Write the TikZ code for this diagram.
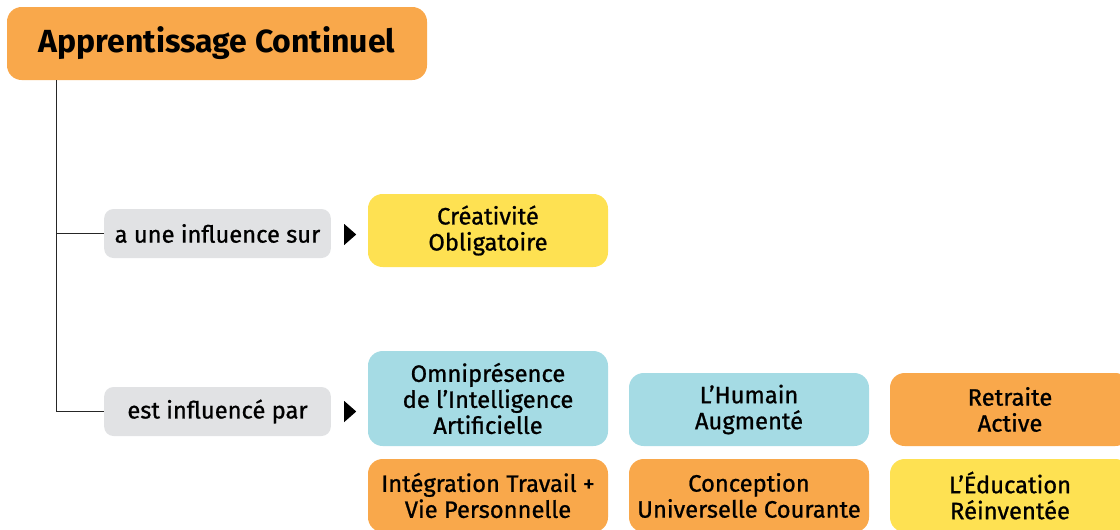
\documentclass[tikz,border=0pt]{standalone}
\usepackage{fontspec}
\setmainfont{Fira Sans}
\newfontfamily\medfont{Fira Sans}[FakeBold=0.9]
\usepackage{xcolor}
\usetikzlibrary{positioning, shapes.geometric}

\definecolor{orangebox}{HTML}{F9A84B}
\definecolor{yellowbox}{HTML}{FEE152}
\definecolor{bluebox}{HTML}{A5DBE4}
\definecolor{greybox}{HTML}{E1E2E4}

\begin{document}
\begin{tikzpicture}[
    x=0.75pt, y=-0.75pt,
    root/.style={fill=orangebox, rounded corners=11pt, align=center,
                 minimum width=315pt, minimum height=54.75pt,
                 font=\fontsize{24}{28}\selectfont\bfseries},
    rel/.style={fill=greybox, rounded corners=7pt, align=center,
                minimum width=170pt, minimum height=36.75pt,
                font=\fontsize{17.8}{19.5}\selectfont\medfont},
    topic/.style={rounded corners=11pt, align=center,
                  minimum width=180pt, minimum height=54.75pt,
                  font=\fontsize{17.8}{19.5}\selectfont\medfont},
    tri/.style={isosceles triangle, isosceles triangle stretches,
                fill=black, inner sep=0pt,
                minimum width=15.75pt, minimum height=9pt},
    link/.style={draw=black!85, line width=0.9pt},
  ]
  \path[use as bounding box, clip] (0,0) rectangle (1120,529);

  % ============ Root ============
  \node[root] (root) at (217,43.5) {Apprentissage Continuel};

  % ============ Relations ============
  \node[rel] (infl) at (217.5,233.5) {a une influence sur};
  \node[rel] (byinfl) at (217.5,411.5) {est influencé par};

  \node[tri] (tinfl) at (349,234.5) {};
  \node[tri] (tbyinfl) at (349,411.5) {};

  % ============ Topics ============
  \node[topic, fill=yellowbox] (crea) at (488,230.5) {Créativité\\Obligatoire};

  \node[topic, fill=bluebox, minimum height=71.25pt] (omni) at (488,398.5)
    {Omniprésence\\de l’Intelligence\\Artificielle};
  \node[topic, fill=bluebox] (hum) at (749,409.5) {L’Humain\\Augmenté};
  \node[topic, fill=orangebox] (retr) at (1010,409.5) {Retraite\\Active};

  \node[topic, fill=orangebox] (integ) at (488,495.5)
    {Intégration Travail +\\Vie Personnelle};
  \node[topic, fill=orangebox] (conc) at (749,495.5)
    {Conception\\Universelle Courante};
  \node[topic, fill=yellowbox] (educ) at (1010,495.5)
    {L’Éducation\\Réinventée};

  % ============ Connections ============
  \coordinate (trunk) at ([xshift=37.5pt]root.south west);
  \draw[link] (trunk) |- (infl.west);
  \draw[link] (trunk) |- (byinfl.west);

\end{tikzpicture}
\end{document}
